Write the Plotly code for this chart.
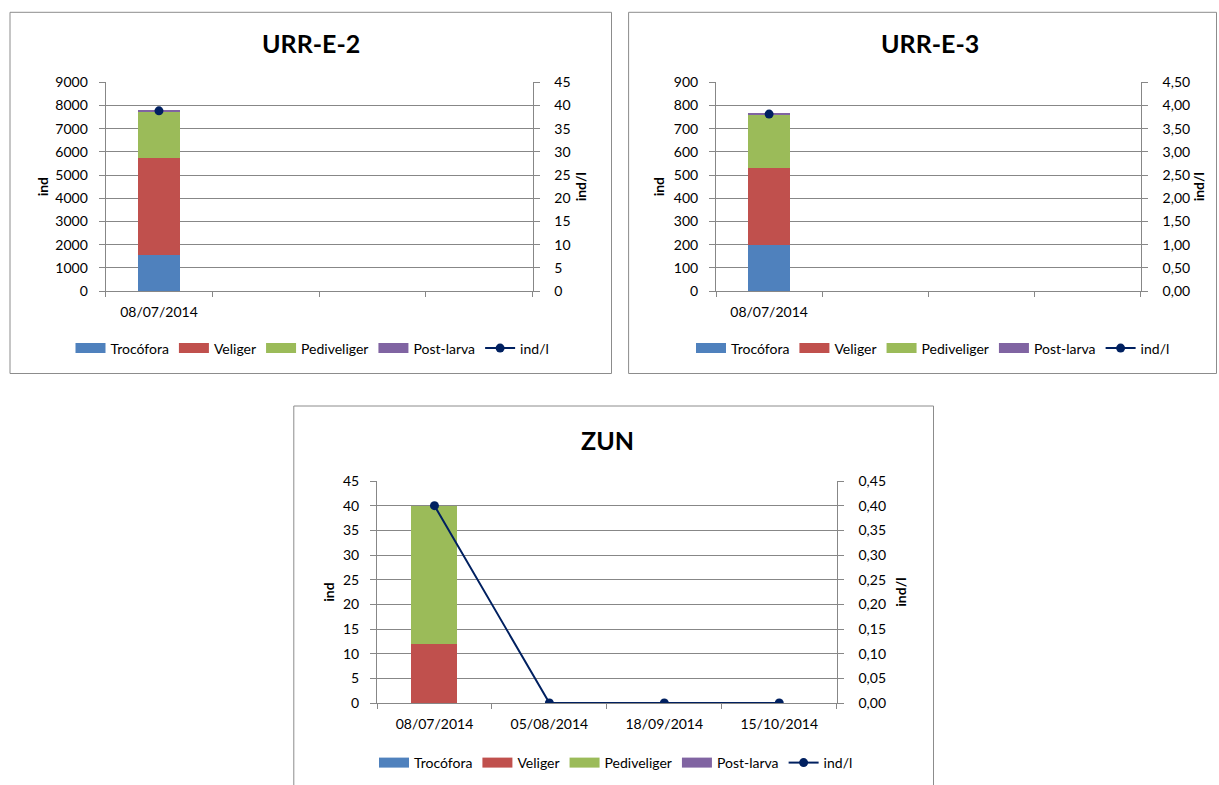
import plotly.graph_objects as go

FIG_W, FIG_H = 1219, 785

# Shared series definitions
series_names = ["Trocófora", "Veliger", "Pediveliger", "Post-larva"]
series_colors = ["#4F81BD", "#C0504D", "#9BBB59", "#8064A2"]
line_name = "ind/l"
line_color = "#002060"

# URR-E-2
urr_e2_labels = ["08/07/2014", "", "", ""]
urr_e2_trocofora = [1550, None, None, None]
urr_e2_veliger = [4170, None, None, None]
urr_e2_pediveliger = [1990, None, None, None]
urr_e2_postlarva = [60, None, None, None]
urr_e2_ind_l = [38.85, None, None, None]

# URR-E-3
urr_e3_labels = ["08/07/2014", "", "", ""]
urr_e3_trocofora = [200, None, None, None]
urr_e3_veliger = [330, None, None, None]
urr_e3_pediveliger = [230, None, None, None]
urr_e3_postlarva = [3, None, None, None]
urr_e3_ind_l = [3.815, None, None, None]

# ZUN
zun_labels = ["08/07/2014", "05/08/2014", "18/09/2014", "15/10/2014"]
zun_trocofora = [0, 0, 0, 0]
zun_veliger = [12, 0, 0, 0]
zun_pediveliger = [28, 0, 0, 0]
zun_postlarva = [0, 0, 0, 0]
zun_ind_l = [0.40, 0, 0, 0]

FONT = "Lato"
GRID = "#878787"
BOX = "#8c8c8c"


def px_x(v):
    return v / FIG_W


def px_y(v):
    return 1 - v / FIG_H


charts = [
    dict(title="URR-E-2", labels=urr_e2_labels,
         series=[urr_e2_trocofora, urr_e2_veliger, urr_e2_pediveliger, urr_e2_postlarva],
         ind_l=urr_e2_ind_l,
         left=(9000, 1000, ""), right=(45, 5, ""),
         plot=(105.6, 82.3, 532.5, 291.0), box=(10, 12.3, 611.5, 373.5),
         title_xy=(310.5, 43.3), legend_xy=(312.5, 348.5),
         standoff=(3, 6)),
    dict(title="URR-E-3", labels=urr_e3_labels,
         series=[urr_e3_trocofora, urr_e3_veliger, urr_e3_pediveliger, urr_e3_postlarva],
         ind_l=urr_e3_ind_l,
         left=(900, 100, ""), right=(4.5, 0.5, ".2f"),
         plot=(716.0, 82.3, 1140.8, 291.0), box=(628.6, 12.3, 1216.5, 373.5),
         title_xy=(929.5, 43.3), legend_xy=(933, 348.5),
         standoff=(5, 4)),
    dict(title="ZUN", labels=zun_labels,
         series=[zun_trocofora, zun_veliger, zun_pediveliger, zun_postlarva],
         ind_l=zun_ind_l,
         left=(45, 5, ""), right=(0.45, 0.05, ".2f"),
         plot=(377.0, 481.0, 836.7, 703.0), box=(293.8, 406.0, 933.5, 800.0),
         title_xy=(607, 439.5), legend_xy=(616, 763),
         standoff=(5, 11)),
]

fig = go.Figure()
layout = dict(
    width=FIG_W, height=FIG_H,
    margin=dict(l=0, r=0, t=0, b=0, autoexpand=False),
    paper_bgcolor="white", plot_bgcolor="white",
    font=dict(family=FONT, size=14, color="#000000"),
    barmode="stack",
    separators=",.",
    showlegend=True,
    annotations=[], shapes=[],
)

tick_font = dict(family=FONT, size=14, color="#000000")

for i, c in enumerate(charts, start=1):
    xname = "x" if i == 1 else f"x{i}"
    yl_idx, yr_idx = 2 * i - 1, 2 * i
    yl = "y" if yl_idx == 1 else f"y{yl_idx}"
    yr = f"y{yr_idx}"
    xkey = "xaxis" if i == 1 else f"xaxis{i}"
    ylkey = "yaxis" if yl_idx == 1 else f"yaxis{yl_idx}"
    yrkey = f"yaxis{yr_idx}"
    legkey = "legend" if i == 1 else f"legend{i}"

    n = len(c["labels"])
    pos = list(range(n))

    # stacked bars (legend keys drawn as wide swatches below)
    for name, color, vals in zip(series_names, series_colors, c["series"]):
        fig.add_trace(go.Bar(
            x=pos, y=vals, name=name, width=0.4, showlegend=False,
            marker=dict(color=color, line=dict(width=0)),
            xaxis=xname, yaxis=yl, legendgroup=f"{name}-{i}",
        ))
        # wide rectangular legend key for the bar series
        fig.add_trace(go.Scatter(
            x=[None], y=[None], name=name, mode="lines",
            line=dict(color=color, width=12),
            xaxis=xname, yaxis=yl, legend=legkey, legendgroup=f"{name}-{i}",
            hoverinfo="skip",
        ))
    fig.add_trace(go.Scatter(
        x=pos, y=c["ind_l"], name=line_name, mode="lines+markers",
        line=dict(color=line_color, width=2),
        marker=dict(color=line_color, size=9),
        xaxis=xname, yaxis=yr, legend=legkey,
    ))

    x0, y0, x1, y1 = c["plot"]
    xdom = [px_x(x0), px_x(x1)]
    ydom = [px_y(y1), px_y(y0)]

    layout[xkey] = dict(
        domain=xdom, anchor=yl, range=[-0.5, n - 0.5],
        tickmode="array", tickvals=pos, ticktext=c["labels"],
        ticks="", showgrid=False, zeroline=False,
        showline=True, linecolor=GRID, linewidth=1,
        tickfont=tick_font, ticklabelstandoff=8,
        minor=dict(tickmode="array", tickvals=[p - 0.5 for p in pos] + [n - 0.5],
                   ticks="outside", ticklen=5, tickcolor=GRID, tickwidth=1,
                   showgrid=False),
        fixedrange=True,
    )
    lmax, ldt, lfmt = c["left"]
    rmax, rdt, rfmt = c["right"]
    layout[ylkey] = dict(
        domain=ydom, anchor=xname, range=[0, lmax], tick0=0, dtick=ldt,
        tickformat=lfmt,
        showgrid=True, gridcolor=GRID, gridwidth=1.3, zeroline=False,
        showline=True, linecolor=GRID, linewidth=1,
        ticks="outside", ticklen=6, tickcolor=GRID, tickwidth=1,
        tickfont=tick_font, ticklabelstandoff=8,
        title=dict(text="<b>ind</b>", font=dict(family=FONT, size=14, color="#000000"),
                   standoff=c["standoff"][0]),
        fixedrange=True,
    )
    layout[yrkey] = dict(
        overlaying=yl, side="right", anchor=xname,
        range=[0, rmax], tick0=0, dtick=rdt, tickformat=rfmt,
        showgrid=False, zeroline=False,
        showline=True, linecolor=GRID, linewidth=1,
        ticks="outside", ticklen=6, tickcolor=GRID, tickwidth=1,
        tickfont=tick_font, ticklabelstandoff=12,
        title=dict(text="<b>ind/l</b>", font=dict(family=FONT, size=14, color="#000000"),
                   standoff=c["standoff"][1]),
        fixedrange=True,
    )

    lx, ly = c["legend_xy"]
    layout[legkey] = dict(
        orientation="h", x=px_x(lx), y=px_y(ly),
        xanchor="center", yanchor="middle",
        font=dict(family=FONT, size=14, color="#000000"),
        bgcolor="rgba(0,0,0,0)", traceorder="normal", itemwidth=30,
    )

    tx, ty = c["title_xy"]
    layout["annotations"].append(dict(
        text=f"<b>{c['title']}</b>", xref="paper", yref="paper",
        x=px_x(tx), y=px_y(ty), xanchor="center", yanchor="middle",
        showarrow=False, font=dict(family=FONT, size=25, color="#000000"),
    ))

    bx0, by0, bx1, by1 = c["box"]
    layout["shapes"].append(dict(
        type="rect", xref="paper", yref="paper",
        x0=px_x(bx0), x1=px_x(bx1), y0=px_y(by1), y1=px_y(by0),
        line=dict(color=BOX, width=1), fillcolor="rgba(0,0,0,0)", layer="below",
    ))

fig.update_layout(**layout)
fig.write_html("out.html", config={"displayModeBar": False})
